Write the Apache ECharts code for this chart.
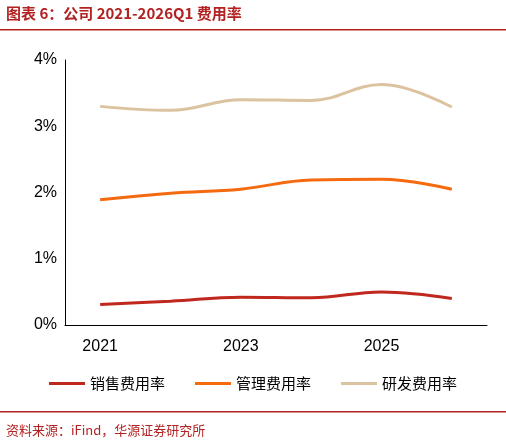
<!DOCTYPE html>
<html><head><meta charset="utf-8">
<script src="https://cdn.jsdelivr.net/npm/echarts@6/dist/echarts.min.js"></script>
<style>body{margin:0;background:#fff}#c{width:506px;height:447px}</style>
</head><body><div id="c"></div>
<script>
var categories = ['2021', '2022', '2023', '2024', '2025', '2026Q1'];
var sales = [0.31, 0.36, 0.42, 0.41, 0.50, 0.40];
var admin = [1.89, 1.99, 2.05, 2.19, 2.20, 2.05];
var rnd = [3.30, 3.24, 3.40, 3.39, 3.63, 3.29];
var names = ['销售费用率', '管理费用率', '研发费用率'];
var colors = ['#C0281E', '#F5690F', '#DCC39F'];

var chart = echarts.init(document.getElementById('c'));
function line(i, d) {
    return { name: names[i], type: 'line', data: d, smooth: 0.4, symbol: 'none',
        lineStyle: { width: 3, color: colors[i] }, itemStyle: { color: colors[i] } };
}
chart.setOption({
    animation: false,
    textStyle: { fontFamily: 'Arial, "Liberation Sans", "Noto Sans CJK SC"' },
    graphic: [
        { type: 'text', left: 6, top: 6, style: { text: '图表 6：公司 2021-2026Q1 费用率', fill: '#B22222', font: 'bold 15px "Noto Sans CJK SC"' } },
        { type: 'rect', shape: { x: 0, y: 29, width: 506, height: 1.5 }, style: { fill: '#B22222' } },
        { type: 'rect', shape: { x: 0, y: 411, width: 506, height: 1.5 }, style: { fill: '#B22222' } },
        { type: 'text', left: 6, top: 424, style: { text: '资料来源：iFind，华源证券研究所', fill: '#B22222', font: '13px "Noto Sans CJK SC"' } }
    ],
    grid: { left: 65, right: 19, top: 60, bottom: 122 },
    legend: { top: 371, itemWidth: 36, itemHeight: 3, itemGap: 30, icon: 'rect',
        textStyle: { fontSize: 15, color: '#000', fontFamily: '"Noto Sans CJK SC"' } },
    xAxis: { type: 'category', data: categories, boundaryGap: true,
        axisLine: { lineStyle: { color: '#000' } }, axisTick: { show: false },
        axisLabel: { color: '#000', fontSize: 16, margin: 14 } },
    yAxis: { type: 'value', min: 0, max: 4, interval: 1,
        axisLine: { show: true, lineStyle: { color: '#000' } }, axisTick: { show: false },
        splitLine: { show: false },
        axisLabel: { color: '#000', fontSize: 16, formatter: '{value}%' } },
    series: [line(0, sales), line(1, admin), line(2, rnd)]
});
</script></body></html>
